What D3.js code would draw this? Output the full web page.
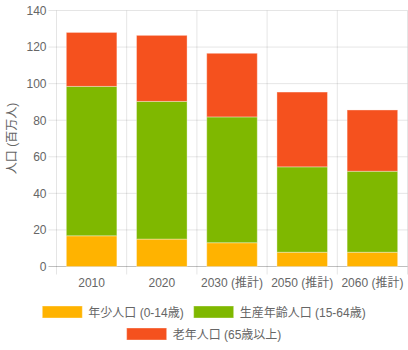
<!DOCTYPE html>
<html><head><meta charset="utf-8">
<script src="https://cdn.jsdelivr.net/npm/d3@7"></script>
<style>html,body{margin:0;padding:0;background:#fff;}svg{display:block;}</style>
</head><body>
<script>
const categories = ["2010", "2020", "2030 (推計)", "2050 (推計)", "2060 (推計)"];
const seriesNames = ["年少人口 (0-14歳)", "生産年齢人口 (15-64歳)", "老年人口 (65歳以上)"];
const young = [16.8, 15.0, 13.0, 7.8, 7.8];
const working = [81.7, 75.3, 68.8, 46.7, 44.3];
const elderly = [29.5, 36.1, 34.8, 40.9, 33.5];
const yTicks = [0, 20, 40, 60, 80, 100, 120, 140];
const colors = ["#FFB300", "#7FB800", "#F5511E"];
const yTitle = "人口 (百万人)";

(function () {
const W = 408, H = 350;
const font = "'Liberation Sans', Arial, 'Noto Sans CJK JP', sans-serif";
const svg = d3.select("body").append("svg").attr("width", W).attr("height", H)
  .style("font-family", font);

const pLeft = 56.5, pRight = 407.5, pTop = 10.5, pBottom = 266.5;
const x = d3.scaleBand().domain(categories).range([pLeft, pRight]).paddingInner(0.28).paddingOuter(0.14);
const y = d3.scaleLinear().domain([0, 140]).range([pBottom, pTop]);

// grid
const g = svg.append("g");
yTicks.forEach(t => {
  g.append("line").attr("x1", pLeft - 8).attr("x2", pRight).attr("y1", y(t)).attr("y2", y(t))
    .attr("stroke", t === 0 ? "rgba(0,0,0,0.25)" : "rgba(0,0,0,0.1)").attr("stroke-width", 1);
});
const step = x.step();
for (let i = 0; i <= categories.length; i++) {
  const xx = pLeft + i * step;
  g.append("line").attr("x1", xx).attr("x2", xx).attr("y1", pTop).attr("y2", pBottom + 8)
    .attr("stroke", "rgba(0,0,0,0.1)").attr("stroke-width", 1);
}

// y axis labels via d3 axis
const yAxis = svg.append("g").attr("transform", `translate(${pLeft - 10},0)`)
  .call(d3.axisLeft(y).tickValues(yTicks).tickSize(0).tickPadding(0));
yAxis.select(".domain").remove();
yAxis.selectAll("text").attr("fill", "#666").style("font-size", "12px").style("font-family", font);

const xAxis = svg.append("g").attr("transform", `translate(0,${pBottom})`)
  .call(d3.axisBottom(x).tickSize(0).tickPadding(12));
xAxis.select(".domain").remove();
xAxis.selectAll("text").attr("fill", "#666").style("font-size", "12px").style("font-family", font);

svg.append("text").attr("transform", `translate(16,${(pTop + pBottom) / 2}) rotate(-90)`)
  .attr("text-anchor", "middle").attr("fill", "#666").style("font-size", "12px").text(yTitle);

// stacked bars
const rows = categories.map((c, i) => ({cat: c, young: young[i], working: working[i], elderly: elderly[i]}));
const stack = d3.stack().keys(["young", "working", "elderly"])(rows);
stack.forEach((layer, li) => {
  svg.append("g").selectAll("rect").data(layer).join("rect")
    .attr("x", d => x(d.data.cat))
    .attr("width", x.bandwidth())
    .attr("y", d => y(d[1]))
    .attr("height", d => y(d[0]) - y(d[1]))
    .attr("fill", colors[li])
    .attr("stroke", "rgba(255,255,255,0.35)").attr("stroke-width", 1);
});

// legend (Chart.js style, centered rows)
const measure = svg.append("text").style("font-size", "12px").attr("visibility", "hidden");
function tw(s) { measure.text(s); return measure.node().getComputedTextLength(); }
const boxW = 40, gap = 6, pad = 10;
const items = seriesNames.map((n, i) => ({name: n, color: colors[i], w: boxW + gap + tw(n)}));
const legendRows = [[items[0], items[1]], [items[2]]];
const rowY = [306, 328];
legendRows.forEach((row, ri) => {
  const total = d3.sum(row, d => d.w) + pad * (row.length - 1);
  let cx = (W - total) / 2;
  row.forEach(it => {
    svg.append("rect").attr("x", cx).attr("y", rowY[ri]).attr("width", boxW).attr("height", 12)
      .attr("fill", it.color).attr("stroke", "rgba(255,255,255,0.35)").attr("stroke-width", 1);
    svg.append("text").attr("x", cx + boxW + gap).attr("y", rowY[ri] + 10.5)
      .attr("fill", "#666").style("font-size", "12px").text(it.name);
    cx += it.w + pad;
  });
});
measure.remove();
})();
</script>
</body></html>
